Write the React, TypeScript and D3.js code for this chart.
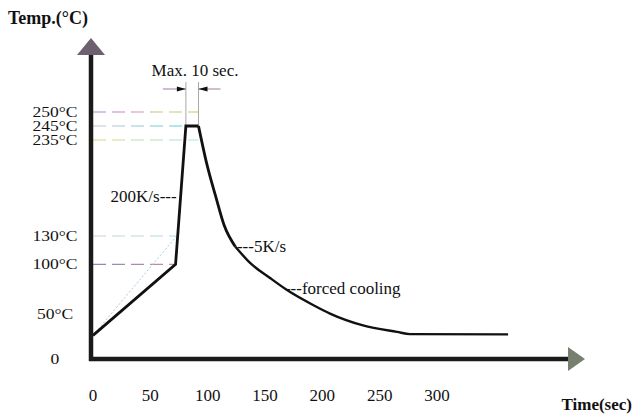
import React from "react";
import * as d3 from "d3";

// ---- data ----
const timeTicks = [0, 50, 100, 150, 200, 250, 300];
const tempTicks = [0, 50, 100, 130, 235, 245, 250];
const tempTickLabels = ["0", "50°C", "100°C", "130°C", "235°C", "245°C", "250°C"];

// reference (dashed) temperature levels and the time they extend to
const refLevels = [100, 130, 235, 245, 250];
const refEnds = [72, 73, 92, 81, 92];
const refColors = [
  ["#8a86c8", "#c89090"],
  ["#c8d4d4", "#a8e0e0"],
  ["#d0d878", "#a8e4e4"],
  ["#c4c8c8", "#58d0d8"],
  ["#a092d0", "#d080c0", "#c8d070", "#98e070"],
];

// soldering profile (time in s, temperature in °C)
const heatTime = [0, 72, 81, 92];
const heatTemp = [25, 100, 245, 245];
const descentTime = [92, 99.4, 107.3, 114.3, 124];
const descentTemp = [245, 208, 172, 142, 119];
const coolTime = [124, 137, 154.4, 169.2, 191.9, 206.7, 235.5, 265.1, 276.4, 362];
const coolTemp = [119, 101.5, 85.6, 72.9, 57.1, 48, 35.5, 28.6, 26.3, 26];

// thin dotted guide line
const guideTime = [0, 73];
const guideTemp = [25, 130];

// peak window
const peakStart = 81;
const peakEnd = 92;

// annotations
const annotTexts = ["200K/s---", "---5K/s", "---forced cooling"];
const annotTime = [73, 125.5, 167.4];
const annotTemp = [173, 119, 75];
const annotAnchor = ["end", "start", "start"];

const W = 633;
const H = 414;
const FONT = "'Liberation Serif', 'Times New Roman', serif";

export default function App() {
  const x = d3.scaleLinear().domain([0, 300]).range([93, 437]);
  const y = d3
    .scaleLinear()
    .domain([0, 130, 235, 245, 250])
    .range([359, 236, 140, 126, 112]);

  const lin = d3
    .line<[number, number]>()
    .x((d) => x(d[0]))
    .y((d) => y(d[1]));
  const smooth = d3
    .line<[number, number]>()
    .x((d) => x(d[0]))
    .y((d) => y(d[1]))
    .curve(d3.curveMonotoneX);

  const zip = (a: number[], b: number[]) =>
    a.map((v, i) => [v, b[i]] as [number, number]);

  const axisX = 91;
  const axisY = 359;

  const arrowY = 89;

  return (
    <svg
      width={W}
      height={H}
      style={{ position: "absolute", left: 0, top: 0, background: "#fff" }}
      fontFamily={FONT}
    >
      <defs>
        {refLevels.map((lv, i) => (
          <linearGradient
            key={lv}
            id={`g${lv}`}
            gradientUnits="userSpaceOnUse"
            x1={x(0)}
            x2={x(refEnds[i])}
            y1={0}
            y2={0}
          >
            {refColors[i].map((c, j) => (
              <stop
                key={j}
                offset={refColors[i].length === 1 ? 0 : j / (refColors[i].length - 1)}
                stopColor={c}
              />
            ))}
          </linearGradient>
        ))}
      </defs>
      <rect width={W} height={H} fill="#fff" />

      {/* dashed reference lines */}
      {refLevels.map((lv, i) => (
        <line
          key={lv}
          x1={x(0)}
          x2={x(refEnds[i])}
          y1={y(lv)}
          y2={y(lv)}
          stroke={`url(#g${lv})`}
          strokeWidth={1.2}
          strokeDasharray="13 6"
        />
      ))}

      {/* dotted guide */}
      <path
        d={lin(zip(guideTime, guideTemp)) || ""}
        fill="none"
        stroke="#9cc4dc"
        strokeWidth={0.9}
        strokeDasharray="2 2"
      />

      {/* peak window markers */}
      {[peakStart, peakEnd].map((t) => (
        <line
          key={t}
          x1={x(t)}
          x2={x(t)}
          y1={82}
          y2={y(245)}
          stroke="#a8a8a8"
          strokeWidth={1}
        />
      ))}
      <line x1={x(peakStart) - 23} x2={x(peakStart)} y1={arrowY} y2={arrowY} stroke="#9a7aa0" strokeWidth={1} />
      <line x1={x(peakEnd)} x2={x(peakEnd) + 22} y1={arrowY} y2={arrowY} stroke="#b07a90" strokeWidth={1} />
      <path d={`M${x(peakStart)},${arrowY} l-9,-2.5 l0,5 z`} fill="#111" />
      <path d={`M${x(peakEnd)},${arrowY} l9,-2.5 l0,5 z`} fill="#111" />
      <text x={195} y={76} fontSize={17} textAnchor="middle" fill="#111">
        Max. 10 sec.
      </text>

      {/* profile */}
      <path d={lin(zip(heatTime, heatTemp)) || ""} fill="none" stroke="#111" strokeWidth={2.8} strokeLinejoin="miter" />
      <path d={smooth(zip(descentTime, descentTemp)) || ""} fill="none" stroke="#111" strokeWidth={2.8} />
      <path d={smooth(zip(coolTime, coolTemp)) || ""} fill="none" stroke="#111" strokeWidth={2.4} />

      {/* annotations */}
      {annotTexts.map((t, i) => (
        <text
          key={t}
          x={x(annotTime[i])}
          y={y(annotTemp[i]) + 5.5}
          fontSize={17}
          textAnchor={annotAnchor[i] as any}
          fill="#111"
        >
          {t}
        </text>
      ))}

      {/* axes */}
      <line x1={axisX} x2={axisX} y1={52} y2={axisY + 2} stroke="#1a1a1a" strokeWidth={4.5} />
      <path d={`M${axisX},38 L${axisX + 14},55 L${axisX - 14},55 Z`} fill="#6d5f6f" />
      <line x1={axisX - 2} x2={570} y1={axisY} y2={axisY} stroke="#1a1a1a" strokeWidth={4.5} />
      <path d={`M585,${axisY} L568,${axisY - 12} L568,${axisY + 12} Z`} fill="#77806f" />

      {/* y tick labels */}
      {tempTicks.map((v, i) => (
        <text
          key={v}
          transform={`translate(55,${y(v) + 5 + (v === 50 ? 2 : 0)}) scale(1.17,1)`}
          fontSize={15}
          textAnchor="middle"
          fill="#111"
        >
          {tempTickLabels[i]}
        </text>
      ))}

      {/* x tick labels */}
      {timeTicks.map((v) => (
        <text key={v} x={x(v)} y={401} fontSize={17} textAnchor="middle" fill="#111">
          {v}
        </text>
      ))}

      {/* axis titles */}
      <text x={8} y={24} fontSize={18} fontWeight="bold" fill="#111">
        Temp.(°C)
      </text>
      <text x={632} y={410} fontSize={17} fontWeight="bold" textAnchor="end" fill="#111">
        Time(sec)
      </text>
    </svg>
  );
}
